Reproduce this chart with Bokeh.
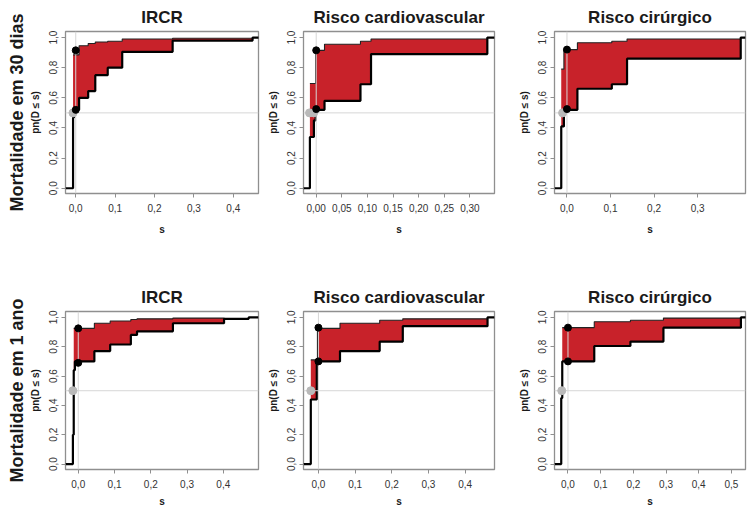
from bokeh.plotting import figure
from bokeh.layouts import column, row
from bokeh.models import Span, Title, FixedTicker
from bokeh.embed import file_html
from bokeh.resources import INLINE

# ---------------- data ----------------
row_labels = ["Mortalidade em 30 dias", "Mortalidade em 1 ano"]
panel_titles = ["IRCR", "Risco cardiovascular", "Risco cirúrgico"]

y_ticks = [0.0, 0.2, 0.4, 0.6, 0.8, 1.0]
y_tick_labels = ["0,0", "0,2", "0,4", "0,6", "0,8", "1,0"]

# Panel 1: 30 dias, IRCR
p1_ecdf_x = [-0.026, -0.0068, -0.0043, 0.0085, 0.0316, 0.0496, 0.0812, 0.118, 0.246, 0.449, 0.466]
p1_ecdf_y = [0.0, 0.47, 0.52, 0.60, 0.645, 0.75, 0.80, 0.905, 0.98, 1.0, 1.0]
p1_band_x = [-0.0068, -0.0043, 0.0085, 0.0316, 0.0496, 0.0812, 0.118, 0.246, 0.449]
p1_band_lo = [0.47, 0.52, 0.60, 0.645, 0.75, 0.80, 0.905, 0.98, 1.0]
p1_band_hi = [0.885, 0.885, 0.945, 0.96, 0.97, 0.975, 0.99, 0.995, 1.0]
p1_dots_y = [0.915, 0.52]
p1_median_x = [-0.007]
p1_xrange = (-0.026, 0.464)
p1_xticks = [0.0, 0.1, 0.2, 0.3, 0.4]
p1_xlabels = ["0,0", "0,1", "0,2", "0,3", "0,4"]

# Panel 2: 30 dias, Risco cardiovascular
p2_ecdf_x = [-0.0253, -0.0123, -0.0045, -0.001, 0.0162, 0.0864, 0.107, 0.334, 0.348]
p2_ecdf_y = [0.0, 0.34, 0.45, 0.52, 0.58, 0.69, 0.89, 1.0, 1.0]
p2_band_x = [-0.0123, -0.0045, -0.001, 0.0162, 0.0864, 0.107, 0.334]
p2_band_lo = [0.34, 0.45, 0.52, 0.58, 0.69, 0.89, 1.0]
p2_band_hi = [0.695, 0.695, 0.915, 0.955, 0.975, 0.99, 1.0]
p2_dots_y = [0.915, 0.525]
p2_median_x = [-0.013, -0.005]
p2_xrange = (-0.0248, 0.348)
p2_xticks = [0.0, 0.05, 0.10, 0.15, 0.20, 0.25, 0.30]
p2_xlabels = ["0,00", "0,05", "0,10", "0,15", "0,20", "0,25", "0,30"]

# Panel 3: 30 dias, Risco cirurgico
p3_ecdf_x = [-0.0286, -0.0131, -0.007, -0.003, 0.024, 0.103, 0.138, 0.399, 0.41]
p3_ecdf_y = [0.0, 0.41, 0.50, 0.52, 0.66, 0.69, 0.86, 1.0, 1.0]
p3_band_x = [-0.0131, -0.007, -0.003, 0.024, 0.103, 0.138, 0.399]
p3_band_lo = [0.41, 0.50, 0.52, 0.66, 0.69, 0.86, 1.0]
p3_band_hi = [0.79, 0.92, 0.92, 0.965, 0.975, 0.99, 1.0]
p3_dots_y = [0.92, 0.525]
p3_median_x = [-0.01]
p3_xrange = (-0.0286, 0.41)
p3_xticks = [0.0, 0.1, 0.2, 0.3]
p3_xlabels = ["0,0", "0,1", "0,2", "0,3"]

# Panel 4: 1 ano, IRCR
p4_ecdf_x = [-0.0352, -0.0148, -0.0125, -0.0093, 0.0444, 0.088, 0.145, 0.162, 0.261, 0.402, 0.47, 0.497]
p4_ecdf_y = [0.0, 0.20, 0.64, 0.70, 0.77, 0.815, 0.88, 0.905, 0.96, 0.99, 1.0, 1.0]
p4_band_x = [-0.0125, -0.0093, 0.0444, 0.088, 0.145, 0.162, 0.261, 0.402]
p4_band_lo = [0.64, 0.70, 0.77, 0.815, 0.88, 0.905, 0.96, 0.99]
p4_band_hi = [0.925, 0.925, 0.96, 0.975, 0.985, 0.99, 0.995, 0.99]
p4_dots_y = [0.925, 0.69]
p4_median_x = [-0.0148]
p4_xrange = (-0.0352, 0.497)
p4_xticks = [0.0, 0.1, 0.2, 0.3, 0.4]
p4_xlabels = ["0,0", "0,1", "0,2", "0,3", "0,4"]

# Panel 5: 1 ano, Risco cardiovascular
p5_ecdf_x = [-0.0407, -0.0208, -0.0045, 0.0588, 0.167, 0.230, 0.461, 0.48]
p5_ecdf_y = [0.0, 0.44, 0.70, 0.77, 0.835, 0.94, 1.0, 1.0]
p5_band_x = [-0.0208, -0.0045, -0.0027, 0.0588, 0.167, 0.230, 0.461]
p5_band_lo = [0.44, 0.70, 0.70, 0.77, 0.835, 0.94, 1.0]
p5_band_hi = [0.71, 0.71, 0.925, 0.96, 0.98, 0.99, 1.0]
p5_dots_y = [0.93, 0.70]
p5_median_x = [-0.0208]
p5_xrange = (-0.0407, 0.48)
p5_xticks = [0.0, 0.1, 0.2, 0.3, 0.4]
p5_xlabels = ["0,0", "0,1", "0,2", "0,3", "0,4"]

# Panel 6: 1 ano, Risco cirurgico
p6_ecdf_x = [-0.0412, -0.0206, -0.0175, 0.0804, 0.191, 0.292, 0.529, 0.55]
p6_ecdf_y = [0.0, 0.45, 0.70, 0.805, 0.835, 0.93, 1.0, 1.0]
p6_band_x = [-0.0175, 0.0804, 0.191, 0.292, 0.529]
p6_band_lo = [0.70, 0.805, 0.835, 0.93, 1.0]
p6_band_hi = [0.93, 0.97, 0.98, 0.995, 1.0]
p6_dots_y = [0.93, 0.70]
p6_median_x = [-0.019]
p6_xrange = (-0.0412, 0.543)
p6_xticks = [0.0, 0.1, 0.2, 0.3, 0.4, 0.5]
p6_xlabels = ["0,0", "0,1", "0,2", "0,3", "0,4", "0,5"]

FONT = "Liberation Sans"
RED = "#C8222A"


def make_panel(title, ecdf_x, ecdf_y, band_x, band_lo, band_hi, dots_y, median_x,
               xrange, xticks, xlabels, yrange, width, height, borders, xlabel_standoff,
               row_label=None):
    bl, br, bt, bb = borders
    p = figure(width=width, height=height, x_range=xrange, y_range=yrange,
               output_backend="svg", toolbar_location=None,
               min_border_left=bl, min_border_right=br, min_border_top=bt, min_border_bottom=bb)
    p.title.text = title
    p.title.align = "center"
    p.title.text_font = FONT
    p.title.text_font_size = "17px"
    p.title.text_font_style = "bold"
    p.title.text_color = "#1a1a1a"
    p.title.standoff = 10
    p.grid.visible = False
    p.outline_line_color = "#8f8f8f"
    p.outline_line_width = 1.3
    p.background_fill_color = "white"
    p.border_fill_color = "white"

    p.varea_step(x=band_x, y1=band_lo, y2=band_hi, step_mode="after", fill_color=RED, fill_alpha=1.0)
    p.step(x=band_x, y=band_hi, mode="after", line_color="#222222", line_width=1.1)
    p.step(x=ecdf_x, y=ecdf_y, mode="after", line_color="black", line_width=2.2)

    p.add_layout(Span(location=0.5, dimension="width", line_color="#d6d6d6", line_width=1))
    p.add_layout(Span(location=0.0, dimension="height", line_color="#d6d6d6", line_width=1))

    g = p.scatter(x=median_x, y=[0.5] * len(median_x), size=8, fill_color="#b9b9b9",
                  line_color="#b9b9b9")
    g.level = "overlay"
    d = p.scatter(x=[0.0] * len(dots_y), y=dots_y, size=7, fill_color="black", line_color="black")
    d.level = "overlay"

    for ax in (p.xaxis[0], p.yaxis[0]):
        ax.axis_line_color = None
        ax.major_tick_line_color = "#8f8f8f"
        ax.major_tick_out = 4
        ax.major_tick_in = 0
        ax.minor_tick_line_color = None
        ax.major_label_text_font = FONT
        ax.major_label_text_font_size = "10px"
        ax.major_label_text_color = "#333333"
        ax.axis_label_text_font = FONT
        ax.axis_label_text_font_size = "10px"
        ax.axis_label_text_font_style = "bold"
        ax.axis_label_text_color = "#1a1a1a"

    p.xaxis.ticker = FixedTicker(ticks=xticks)
    p.xaxis.major_label_overrides = dict(zip(xticks, xlabels))
    p.xaxis.major_label_standoff = 6
    p.xaxis.axis_label = "s"
    p.xaxis.axis_label_standoff = xlabel_standoff

    p.yaxis.ticker = FixedTicker(ticks=y_ticks)
    p.yaxis.major_label_overrides = dict(zip(y_ticks, y_tick_labels))
    p.yaxis.major_label_orientation = "vertical"
    p.yaxis.major_label_standoff = 4
    p.yaxis.axis_label = "pn(D \u2264 s)"
    p.yaxis.axis_label_standoff = 6

    if row_label is not None:
        t = Title(text=row_label, align="center", text_font=FONT, text_font_size="18px",
                  text_font_style="bold", text_color="#1a1a1a", standoff=0)
        p.add_layout(t, "left")
    return p


top_yr = (-0.035, 1.04)
bot_yr = (-0.037, 1.04)
widths = [263, 252, 234]
lr = [(65, 5), (40, 21), (38, 4)]

panels = [
    (p1_ecdf_x, p1_ecdf_y, p1_band_x, p1_band_lo, p1_band_hi, p1_dots_y, p1_median_x, p1_xrange, p1_xticks, p1_xlabels),
    (p2_ecdf_x, p2_ecdf_y, p2_band_x, p2_band_lo, p2_band_hi, p2_dots_y, p2_median_x, p2_xrange, p2_xticks, p2_xlabels),
    (p3_ecdf_x, p3_ecdf_y, p3_band_x, p3_band_lo, p3_band_hi, p3_dots_y, p3_median_x, p3_xrange, p3_xticks, p3_xlabels),
    (p4_ecdf_x, p4_ecdf_y, p4_band_x, p4_band_lo, p4_band_hi, p4_dots_y, p4_median_x, p4_xrange, p4_xticks, p4_xlabels),
    (p5_ecdf_x, p5_ecdf_y, p5_band_x, p5_band_lo, p5_band_hi, p5_dots_y, p5_median_x, p5_xrange, p5_xticks, p5_xlabels),
    (p6_ecdf_x, p6_ecdf_y, p6_band_x, p6_band_lo, p6_band_hi, p6_dots_y, p6_median_x, p6_xrange, p6_xticks, p6_xlabels),
]

figs = []
for i, data in enumerate(panels):
    r, c = divmod(i, 3)
    if r == 0:
        h, bt, bb, yr, sd = 250, 30, 57, top_yr, 9
    else:
        h, bt, bb, yr, sd = 259, 61, 36, bot_yr, 5
    figs.append(make_panel(panel_titles[c], *data, yrange=yr, width=widths[c], height=h,
                           borders=(lr[c][0], lr[c][1], bt, bb), xlabel_standoff=sd,
                           row_label=row_labels[r] if c == 0 else None))

layout = column(row(*figs[:3]), row(*figs[3:]))
open("out.html", "w").write(file_html(layout, INLINE))
